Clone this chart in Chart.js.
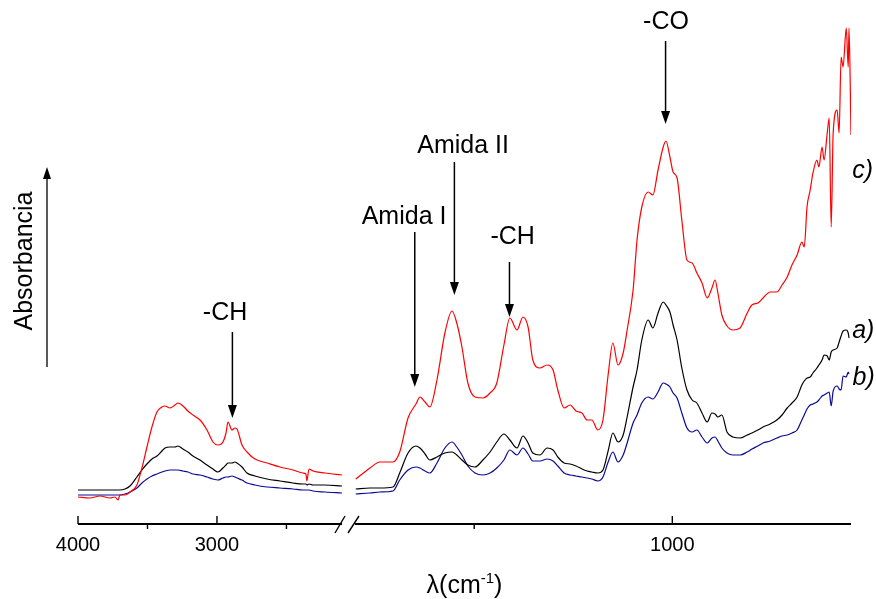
<!DOCTYPE html>
<html>
<head>
<meta charset="utf-8">
<script src="https://cdn.jsdelivr.net/npm/chart.js@4"></script>
<style>
  html, body { margin: 0; padding: 0; background: #fff; }
</style>
</head>
<body>
<canvas id="ftir" width="876" height="599"></canvas>
<script>
// wavenumbers (cm-1) of the two axis segments
const wnLeft = [4000, 3914, 3842, 3770, 3734, 3712, 3698, 3662, 3626, 3576, 3540, 3504, 3468, 3432, 3396,
  3374, 3338, 3302, 3281, 3245, 3209, 3173, 3122, 3072, 3029, 2993, 2957, 2935, 2921, 2892,
  2871, 2856, 2820, 2784, 2727, 2640, 2547, 2453, 2381, 2360, 2353, 2338, 2309, 2223, 2101];
const wnRight = [1799, 1763, 1738, 1705, 1688, 1667, 1647, 1637, 1624, 1612,
  1594, 1574, 1556, 1544, 1531, 1516, 1498, 1478, 1460, 1443,
  1425, 1410, 1392, 1377, 1364, 1352, 1334, 1316, 1301, 1289,
  1273, 1258, 1243, 1228, 1215, 1203, 1188, 1175, 1162, 1150,
  1137, 1124, 1114, 1099, 1089, 1077, 1061, 1049, 1036, 1023,
  1016, 1006, 998, 988, 976, 963, 950, 938, 925, 912,
  900, 892, 885, 875, 862, 847, 829, 811, 799, 784,
  771, 753, 736, 723, 710, 698, 685, 673, 667, 660,
  652, 645, 635, 630, 622, 617, 609, 604, 599, 594,
  584, 579, 574, 569, 561, 556, 554, 549];

// absorbance (arbitrary units) - c) red, a) black, b) blue
const cLeft = [0.27, 0.26, 0.28, 0.26, 0.27, 0.24, 0.29, 0.29, 0.32, 0.39, 0.56, 0.77, 0.97, 1.12, 1.17,
  1.18, 1.16, 1.19, 1.21, 1.18, 1.13, 1.09, 1.04, 0.94, 0.82, 0.79, 0.82, 0.91, 1.02, 0.94,
  0.96, 0.95, 0.79, 0.72, 0.65, 0.61, 0.57, 0.54, 0.51, 0.50, 0.43, 0.55, 0.53, 0.51, 0.49];
const aLeft = [0.34, 0.34, 0.34, 0.34, 0.34, 0.34, 0.34, 0.35, 0.38, 0.47, 0.54, 0.60, 0.65, 0.68, 0.73,
  0.76, 0.77, 0.77, 0.78, 0.75, 0.72, 0.68, 0.64, 0.59, 0.55, 0.52, 0.56, 0.59, 0.61, 0.61,
  0.62, 0.61, 0.57, 0.51, 0.48, 0.45, 0.43, 0.41, 0.40, 0.40, 0.39, 0.40, 0.39, 0.39, 0.38];
const bLeft = [0.29, 0.29, 0.29, 0.29, 0.29, 0.29, 0.29, 0.30, 0.32, 0.36, 0.41, 0.45, 0.48, 0.50, 0.52,
  0.53, 0.54, 0.54, 0.54, 0.53, 0.52, 0.50, 0.49, 0.47, 0.45, 0.44, 0.46, 0.47, 0.47, 0.48,
  0.47, 0.46, 0.44, 0.41, 0.39, 0.37, 0.36, 0.35, 0.34, 0.34, 0.34, 0.34, 0.33, 0.32, 0.31];

const cRight = [0.45, 0.56, 0.62, 0.62, 0.72, 1.06, 1.20, 1.27, 1.22, 1.17,
  1.44, 1.91, 2.13, 2.01, 1.77, 1.41, 1.27, 1.26, 1.31, 1.41,
  1.79, 2.06, 1.94, 2.07, 1.97, 1.64, 1.56, 1.59, 1.54, 1.34,
  1.16, 1.19, 1.13, 1.11, 1.04, 1.04, 0.94, 1.04, 1.49, 1.81,
  1.59, 1.71, 1.94, 2.34, 2.84, 3.17, 3.32, 3.29, 3.54, 3.77,
  3.83, 3.67, 3.52, 3.46, 3.04, 2.64, 2.61, 2.51, 2.41, 2.26,
  2.36, 2.44, 2.31, 2.09, 1.98, 1.94, 1.96, 2.11, 2.19, 2.21,
  2.26, 2.32, 2.32, 2.39, 2.47, 2.59, 2.69, 2.82, 2.77, 3.17,
  3.34, 3.51, 3.64, 3.57, 3.77, 3.64, 3.91, 4.06, 2.97, 3.91,
  4.14, 3.91, 4.67, 4.57, 4.96, 4.57, 4.96, 3.89];
const aRight = [0.35, 0.36, 0.36, 0.37, 0.51, 0.71, 0.78, 0.76, 0.70, 0.64,
  0.67, 0.71, 0.72, 0.69, 0.64, 0.59, 0.57, 0.64, 0.72, 0.82,
  0.90, 0.84, 0.76, 0.88, 0.81, 0.71, 0.69, 0.76, 0.74, 0.67,
  0.61, 0.60, 0.58, 0.55, 0.53, 0.52, 0.51, 0.54, 0.73, 0.91,
  0.82, 0.89, 1.07, 1.37, 1.54, 1.84, 2.04, 1.96, 2.11, 2.22,
  2.19, 2.12, 1.99, 1.84, 1.56, 1.34, 1.24, 1.21, 1.11, 1.02,
  1.11, 1.10, 1.07, 1.09, 0.92, 0.87, 0.86, 0.89, 0.91, 0.94,
  0.97, 1.00, 1.04, 1.09, 1.16, 1.21, 1.27, 1.39, 1.43, 1.46,
  1.47, 1.51, 1.56, 1.59, 1.64, 1.69, 1.68, 1.64, 1.72, 1.74,
  1.76, 1.82, 1.88, 1.93, 1.94, 1.91, 1.86, null];
const bRight = [0.30, 0.31, 0.32, 0.33, 0.44, 0.54, 0.57, 0.56, 0.53, 0.51,
  0.61, 0.76, 0.82, 0.77, 0.69, 0.58, 0.51, 0.49, 0.51, 0.56,
  0.64, 0.74, 0.69, 0.76, 0.70, 0.63, 0.63, 0.65, 0.63, 0.58,
  0.51, 0.49, 0.48, 0.47, 0.46, 0.45, 0.43, 0.47, 0.62, 0.72,
  0.62, 0.69, 0.81, 1.01, 1.09, 1.21, 1.27, 1.25, 1.32, 1.41,
  1.40, 1.37, 1.31, 1.26, 1.11, 0.96, 0.92, 0.94, 0.87, 0.81,
  0.86, 0.87, 0.83, 0.76, 0.71, 0.69, 0.69, 0.72, 0.75, 0.78,
  0.81, 0.83, 0.86, 0.88, 0.89, 0.91, 0.94, 1.04, 1.09, 1.15,
  1.19, 1.20, 1.22, 1.24, 1.28, 1.29, 1.31, 1.32, 1.18, 1.33,
  1.38, 1.35, 1.34, 1.48, 1.47, 1.52, 1.50, null];

// ticks
const majorLeft = [4000, 3000], minorLeft = [3500, 2500];
const majorRight = [1000], minorRight = [1500];

// band labels: arrow at wn, tip/top in absorbance
const bands = [
  { text: '-CH',      axis: 'xL', wn: 2889, tip: 1.06, top: 1.92, labelWn: 2942, labelY: 2.11 },
  { text: 'Amida I',  axis: 'xR', wn: 1650, tip: 1.37, top: 2.92, labelWn: 1677, labelY: 3.07 },
  { text: 'Amida II', axis: 'xR', wn: 1550, tip: 2.29, top: 3.62, labelWn: 1528, labelY: 3.78 },
  { text: '-CH',      axis: 'xR', wn: 1411, tip: 2.07, top: 2.62, labelWn: 1403, labelY: 2.87 },
  { text: '-CO',      axis: 'xR', wn: 1017, tip: 4.00, top: 4.83, labelWn: 1016, labelY: 5.02 }
];
const curveLabels = [
  { text: 'c)', wn: 546, y: 3.53 },
  { text: 'a)', wn: 546, y: 1.93 },
  { text: 'b)', wn: 545, y: 1.46 }
];

const FONT = 'Arial, "Liberation Sans", sans-serif';
const pts = (xs, ys) => xs.map((x, i) => ({ x, y: ys[i] }));

function series(data, color, axis) {
  return {
    data, xAxisID: axis, yAxisID: 'y',
    borderColor: color, borderWidth: 1.2,
    pointRadius: 0, cubicInterpolationMode: 'monotone', spanGaps: false
  };
}

function arrowDown(ctx, x, yTop, yTip) {
  ctx.beginPath(); ctx.moveTo(x, yTop); ctx.lineTo(x, yTip - 10); ctx.stroke();
  ctx.beginPath(); ctx.moveTo(x, yTip); ctx.lineTo(x - 4.5, yTip - 13); ctx.lineTo(x + 4.5, yTip - 13);
  ctx.closePath(); ctx.fill();
}

const decor = {
  id: 'decor',
  afterDraw(chart) {
    const ctx = chart.ctx;
    const { xL, xR, y } = chart.scales;
    const base = chart.chartArea.bottom;
    const seg = (x0, y0, x1, y1) => { ctx.beginPath(); ctx.moveTo(x0, y0); ctx.lineTo(x1, y1); ctx.stroke(); };
    ctx.save();
    ctx.strokeStyle = '#000'; ctx.fillStyle = '#000';

    // broken x axis
    const b = xL.right;
    ctx.lineWidth = 1.8;
    seg(xL.left, base, b - 7, base);
    seg(b + 6, base, xR.right, base);
    ctx.lineWidth = 1.4;
    seg(b - 14, base + 9, b - 4, base - 8);
    seg(b - 1, base + 9, b + 10, base - 8);

    ctx.lineWidth = 1.4;
    majorLeft.forEach(v => { const p = xL.getPixelForValue(v); seg(p, base, p, base - 8); });
    majorRight.forEach(v => { const p = xR.getPixelForValue(v); seg(p, base, p, base - 8); });
    minorLeft.forEach(v => { const p = xL.getPixelForValue(v); seg(p, base, p, base + 5); });
    minorRight.forEach(v => { const p = xR.getPixelForValue(v); seg(p, base, p, base + 5); });

    // y axis arrow + title
    const ax = xL.left - 31;
    ctx.lineWidth = 1.3;
    const yTip = y.getPixelForValue(3.57), yBot = y.getPixelForValue(1.57);
    seg(ax, yBot, ax, yTip + 10);
    ctx.beginPath(); ctx.moveTo(ax, yTip); ctx.lineTo(ax - 4, yTip + 12); ctx.lineTo(ax + 4, yTip + 12);
    ctx.closePath(); ctx.fill();

    ctx.font = '25px ' + FONT;
    ctx.textAlign = 'center'; ctx.textBaseline = 'middle';
    ctx.save();
    ctx.translate(25, y.getPixelForValue(2.63));
    ctx.rotate(-Math.PI / 2);
    ctx.fillText('Absorbancia', 0, 0);
    ctx.restore();

    // band arrows and labels
    ctx.lineWidth = 1.5;
    bands.forEach(d => {
      const sc = chart.scales[d.axis];
      arrowDown(ctx, sc.getPixelForValue(d.wn), y.getPixelForValue(d.top), y.getPixelForValue(d.tip));
      ctx.fillText(d.text, sc.getPixelForValue(d.labelWn), y.getPixelForValue(d.labelY));
    });

    // curve labels
    ctx.font = 'italic 25px ' + FONT;
    ctx.textAlign = 'left';
    curveLabels.forEach(d => ctx.fillText(d.text, xR.getPixelForValue(d.wn), y.getPixelForValue(d.y)));

    // x title with superscript
    const cx = (xL.left + xR.right) / 2, by = 593;
    const big = '25px ' + FONT, small = '15px ' + FONT;
    ctx.textBaseline = 'alphabetic';
    ctx.font = big; const w1 = ctx.measureText('\u03bb(cm').width, w3 = ctx.measureText(')').width;
    ctx.font = small; const w2 = ctx.measureText('-1').width;
    let x0 = cx - (w1 + w2 + w3) / 2;
    ctx.font = big; ctx.fillText('\u03bb(cm', x0, by);
    ctx.font = small; ctx.fillText('-1', x0 + w1, by - 10);
    ctx.font = big; ctx.fillText(')', x0 + w1 + w2, by);
    ctx.restore();
  }
};

function xAxis(min, max, weight, ticksList, majors) {
  return {
    type: 'linear', position: 'bottom', stack: 'wn', stackWeight: weight,
    min, max, reverse: true,
    grid: { display: false, drawTicks: false },
    border: { display: false },
    afterBuildTicks: s => { s.ticks = ticksList.map(v => ({ value: v })); },
    afterFit: s => { s.height = 75; },
    ticks: {
      autoSkip: false, maxRotation: 0, padding: 9, color: '#000',
      font: { family: FONT, size: 20 },
      callback: v => majors.includes(v) ? String(v) : ''
    }
  };
}

new Chart(document.getElementById('ftir'), {
  type: 'line',
  data: {
    datasets: [
      series(pts(wnLeft, cLeft), '#ff0000', 'xL'),
      series(pts(wnRight, cRight), '#ff0000', 'xR'),
      series(pts(wnLeft, aLeft), '#000000', 'xL'),
      series(pts(wnRight, aRight), '#000000', 'xR'),
      series(pts(wnLeft, bLeft), '#0a0a96', 'xL'),
      series(pts(wnRight, bRight), '#0a0a96', 'xR')
    ]
  },
  options: {
    responsive: false, animation: false,
    layout: { padding: { left: 78, right: 25, top: 24, bottom: 0 } },
    plugins: { legend: { display: false }, tooltip: { enabled: false } },
    scales: {
      xL: xAxis(2050, 4000, 271, [4000, 3500, 3000, 2500], majorLeft),
      xR: xAxis(549, 1816, 502, [1500, 1000], majorRight),
      y: { display: false, min: 0, max: 5 }
    }
  },
  plugins: [decor]
});
</script>
</body>
</html>
